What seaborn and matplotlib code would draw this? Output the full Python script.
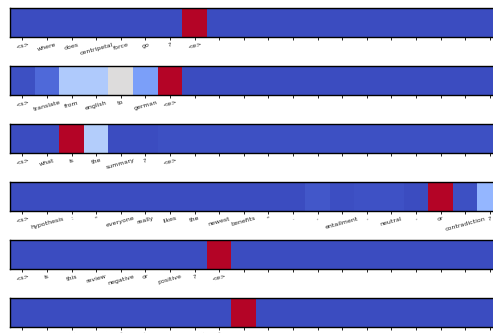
import matplotlib
matplotlib.use("Agg")
import matplotlib.pyplot as plt
import seaborn as sns
import pandas as pd

# Prompt tokens for each example (unused trailing positions have blank labels)
tokens_1 = ["<s>", "where", "does", "centripetal", "force", "go", "?", "<e>",
            "", "", "", "", "", "", "", "", "", "", "", ""]
tokens_2 = ["<s>", "translate", "from", "english", "to", "german", "<e>",
            "", "", "", "", "", "", "", "", "", "", "", "", ""]
tokens_3 = ["<s>", "what", "is", "the", "summary", "?", "<e>",
            "", "", "", "", "", "", "", "", "", "", "", "", ""]
tokens_4 = ["<s>", "hypothesis", ":", "\"", "everyone", "really", "likes", "the",
            "newest", "benefits", "\"", ".", ",", "entailment", ",", "neutral",
            ",", "or", "contradiction", "?"]
tokens_5 = ["<s>", "is", "this", "review", "negative", "or", "positive", "?", "<e>",
            "", "", "", "", "", "", "", "", "", "", ""]
tokens_6 = ["<s>", "is", "the", "sentence", "\"", "it", "is", "raining", "\"", "<e>",
            "", "", "", "", "", "", "", "", "", ""]

# Normalised attention weight per token position
weights_1 = [0.00, 0.00, 0.00, 0.00, 0.00, 0.00, 0.00, 1.00, 0.00, 0.00,
             0.00, 0.00, 0.00, 0.00, 0.00, 0.00, 0.00, 0.00, 0.00, 0.00]
weights_2 = [0.01, 0.07, 0.35, 0.35, 0.50, 0.20, 1.00, 0.00, 0.00, 0.00,
             0.00, 0.00, 0.00, 0.00, 0.00, 0.00, 0.00, 0.00, 0.00, 0.00]
weights_3 = [0.00, 0.00, 1.00, 0.36, 0.00, 0.00, 0.01, 0.01, 0.01, 0.01,
             0.01, 0.01, 0.01, 0.01, 0.01, 0.01, 0.01, 0.01, 0.01, 0.01]
weights_4 = [0.00, 0.00, 0.00, 0.00, 0.00, 0.00, 0.00, 0.00, 0.00, 0.00,
             0.00, 0.00, 0.025, 0.005, 0.012, 0.012, 0.00, 1.00, 0.01, 0.27]
weights_5 = [0.00, 0.00, 0.00, 0.00, 0.00, 0.00, 0.00, 0.00, 1.00, 0.00,
             0.00, 0.00, 0.00, 0.00, 0.00, 0.00, 0.00, 0.00, 0.00, 0.00]
weights_6 = [0.00, 0.00, 0.00, 0.00, 0.00, 0.00, 0.00, 0.00, 0.00, 1.00,
             0.00, 0.00, 0.00, 0.00, 0.00, 0.00, 0.00, 0.00, 0.00, 0.00]

examples = [
    (tokens_1, weights_1),
    (tokens_2, weights_2),
    (tokens_3, weights_3),
    (tokens_4, weights_4),
    (tokens_5, weights_5),
    (tokens_6, weights_6),
]

W, H = 493, 333
fig = plt.figure(figsize=(W / 100, H / 100), dpi=100)

left_px, width_px, height_px = 10, 492, 29
for i, (toks, w) in enumerate(examples):
    top_px = 8 + 58 * i
    ax = fig.add_axes([left_px / W, 1 - (top_px + height_px) / H,
                       width_px / W, height_px / H])
    df = pd.DataFrame([w], columns=range(len(w)))
    sns.heatmap(df, ax=ax, cmap="coolwarm", vmin=0, vmax=1, cbar=False,
                xticklabels=toks, yticklabels=False)
    ax.tick_params(axis="x", length=2, width=0.6, pad=1.5, labelsize=4.5,
                   colors="black")
    for lab in ax.get_xticklabels():
        lab.set_rotation(15)
        lab.set_ha("center")
        lab.set_color("#222222")
    for sp in ax.spines.values():
        sp.set_visible(True)
        sp.set_color("black")
        sp.set_linewidth(1.0)
    ax.set_xlabel("")
    ax.set_ylabel("")

fig.savefig("out.png", dpi=100)
